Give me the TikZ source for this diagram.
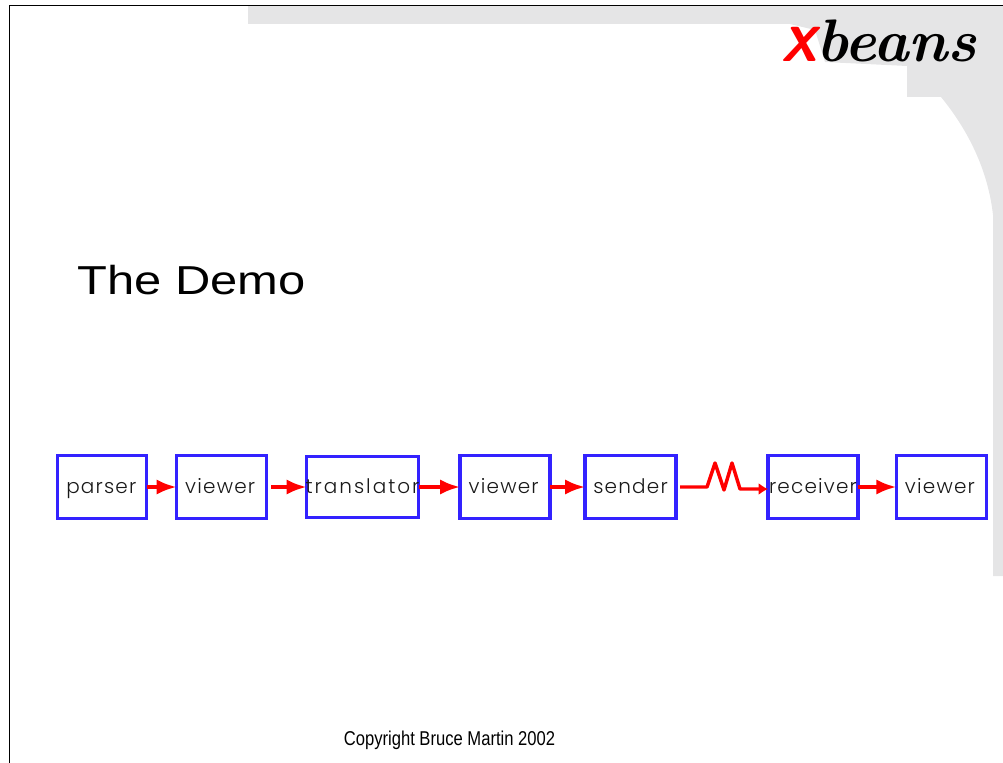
\documentclass[tikz,border=0pt]{standalone}
\usepackage{fontspec}
\usepackage{xcolor}
\usetikzlibrary{calc,arrows.meta}
\newfontfamily\titlefont[FakeStretch=1.21]{Liberation Sans}
\newfontfamily\footfont[FakeStretch=0.83]{Liberation Sans}
\newfontfamily\boxfont[LetterSpace=6]{Poppins Light}
\newfontfamily\widebox[LetterSpace=10]{Poppins Light}
\definecolor{boxblue}{RGB}{51,34,255}
\definecolor{pagegrey}{RGB}{229,229,230}

\begin{document}
\begin{tikzpicture}[x=0.75pt,y=-0.75pt]
        \tikzstyle{box}=[draw=boxblue,line width=2.6pt,inner sep=0pt,outer sep=0pt,minimum height=47.25pt,text height=12.2pt,text depth=2.3pt,font=\boxfont\fontsize{15}{18}\selectfont,text=black!90]
        \tikzstyle{link}=[draw=red,line width=2.6pt,-{Latex[length=15pt,width=11.5pt]}]
        \useasboundingbox (0,0) rectangle (1003,763);

        % page background
        \fill[pagegrey] (248,6) -- (1003,6) -- (1003,576) -- (993,576) -- (993,215)
            .. controls (988,170) and (968,130) .. (941,97) -- (907,97) -- (907,66) -- (825,62)
            -- (815,30) -- (790,24) -- (248,24) -- cycle;
        \draw[line width=1.1pt] (9.5,763) -- (9.5,5.5) -- (1003,5.5);

        \node[font=\titlefont\fontsize{30.3}{36}\selectfont,anchor=base west,inner sep=0pt] (demo) at (77,294) {The Demo};
        \node[font=\footfont\fontsize{15}{18}\selectfont,anchor=base,inner sep=0pt] (copy) at (449.5,745) {Copyright Bruce Martin 2002};

        % logo
        \node[font=\sffamily\bfseries\itshape\fontsize{37}{40}\selectfont,text=red,anchor=base west,inner sep=0pt] (logox) at (781,62) {X};
        \node[font=\bfseries\itshape\fontsize{45}{48}\selectfont,anchor=base west,inner sep=0pt] (logobeans) at (816,62) {beans};

        % boxes
        \node[box,minimum width=66.75pt] (parser) at (102,487) {\hspace{-1pt}parser};
        \node[box,minimum width=67.5pt] (viewer1) at (221.5,487) {\hspace{-2pt}viewer};
        \node[box,minimum width=84pt,minimum height=45.75pt] (translator) at (362.5,487) {\makebox[0pt]{\widebox translator}};
        \node[box,minimum width=67.5pt] (viewer2) at (505,487) {\hspace{-2pt}viewer};
        \node[box,minimum width=68.25pt] (sender) at (630.5,487) {sender};
        \node[box,minimum width=67.5pt] (receiver) at (813,487) {\makebox[0pt]{receiver}};
        \node[box,minimum width=67.5pt] (viewer3) at (941.25,487) {\hspace{-2pt}viewer};

        \draw[link] (parser) to (viewer1);
        \draw[link,shorten <=3.5pt] (viewer1) to (translator);
        \draw[link] (translator) to (viewer2);
        \draw[link] (viewer2) to (sender);
        \draw[link] (receiver) to (viewer3);

        \coordinate (kink) at ($(sender.east)+(31,0)$);
        \coordinate (drop) at ($(kink)+(33,2)$);
        \draw[draw=red,line width=2.6pt,line join=round,-{Latex[length=7pt,width=9pt]},shorten <=3pt] (sender.east) -- (kink)
            -- ++(8,-24) -- ++(9,27) -- ++(8,-27) -- (drop) -- ($(receiver.west)+(0,2)$);
    \end{tikzpicture}
\end{document}
